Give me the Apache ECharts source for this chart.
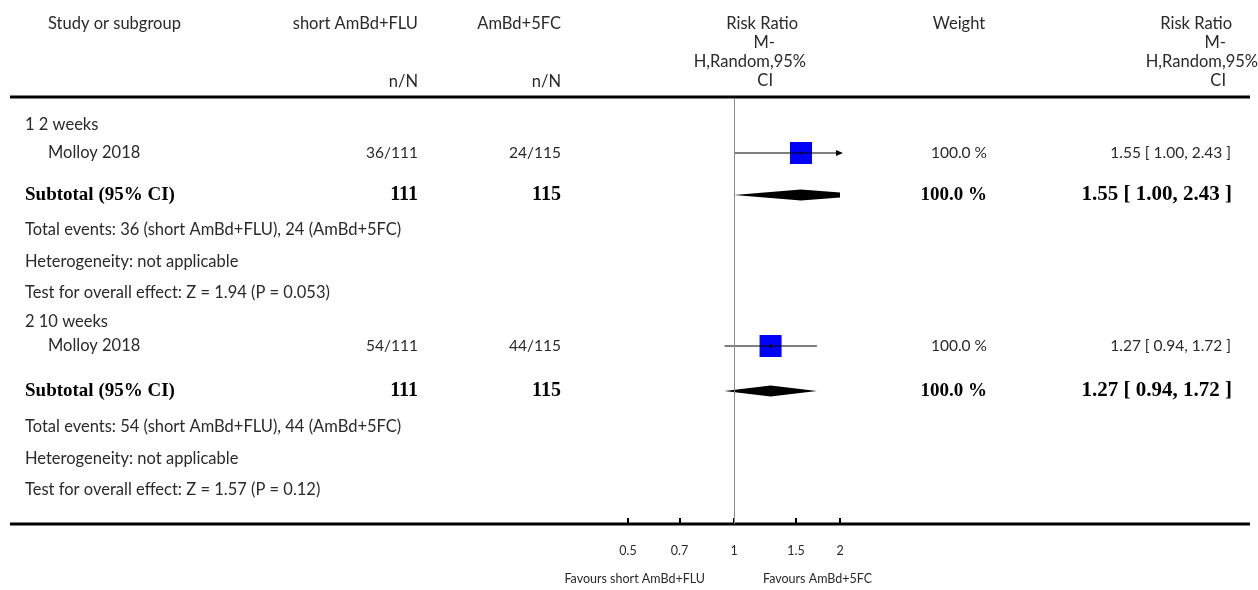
<!DOCTYPE html>
<html><head><meta charset="utf-8">
<script src="https://cdn.jsdelivr.net/npm/echarts@6/dist/echarts.min.js"></script>
<style>html,body{margin:0;padding:0;background:#fff}#c{width:1258px;height:590px}</style>
</head><body><div id="c"></div>
<script>
// ---------- data ----------
const groupLabels = ['1 2 weeks', '2 10 weeks'];
const studyNames = ['Molloy 2018', 'Molloy 2018'];
const expEvents = ['36/111', '54/111'];
const ctrlEvents = ['24/115', '44/115'];
const studyRR = [1.55, 1.27];
const studyLo = [1.00, 0.94];
const studyHi = [2.43, 1.72];
const studyWeight = ['100.0 %', '100.0 %'];
const subExpN = ['111', '111'];
const subCtrlN = ['115', '115'];
const subRR = [1.55, 1.27];
const subLo = [1.00, 0.94];
const subHi = [2.43, 1.72];
const subWeight = ['100.0 %', '100.0 %'];
const totalEvents = ['Total events: 36 (short AmBd+FLU), 24 (AmBd+5FC)', 'Total events: 54 (short AmBd+FLU), 44 (AmBd+5FC)'];
const heterogeneity = ['Heterogeneity: not applicable', 'Heterogeneity: not applicable'];
const overallEffect = ['Test for overall effect: Z = 1.94 (P = 0.053)', 'Test for overall effect: Z = 1.57 (P = 0.12)'];
const tickValues = [0.5, 0.7, 1, 1.5, 2];
const tickLabels = ['0.5', '0.7', '1', '1.5', '2'];
const favoursLeft = 'Favours short AmBd+FLU';
const favoursRight = 'Favours AmBd+5FC';

// ---------- layout ----------
const rowsY = [
  {group:125, study:153, sub:195, tot:230, het:262, test:293},
  {group:322, study:346, sub:391, tot:427, het:459, test:490}
];
const colX = {group:25, study:48, exp:418, ctrl:561, weight:987, rr:1231};
const F = '"Lato", "Noto Sans", sans-serif';
const FB = '"Liberation Serif", "DejaVu Serif", serif';
const TC = '#2a2a2a';
const fsW = 16.5;   // word text
const fsN = 15.5;   // numeric columns

function fmt(v){ return v.toFixed(2); }
function ciText(r,l,h){ return fmt(r) + ' [ ' + fmt(l) + ', ' + fmt(h) + ' ]'; }

const g = [];
function txt(x, y, s, align, size, font, weight, color){
  g.push({type:'text', x:x, y:y, silent:true, style:{text:s, x:0, y:0, align:align||'left', verticalAlign:'middle',
    fontFamily:font||F, fontSize:size||fsW, fontWeight:weight||'normal', fill:color||TC}});
}
// header
txt(colX.study, 24, 'Study or subgroup');
txt(colX.exp, 24, 'short AmBd+FLU', 'right');
txt(colX.ctrl, 24, 'AmBd+5FC', 'right');
txt(colX.exp, 82, 'n/N', 'right');
txt(colX.ctrl, 82, 'n/N', 'right');
txt(798, 24, 'Risk Ratio', 'right');
txt(775, 43, 'M-', 'right');
txt(806, 62, 'H,Random,95%', 'right');
txt(773, 81, 'CI', 'right');
txt(959, 24, 'Weight', 'center');
txt(1232, 24, 'Risk Ratio', 'right');
txt(1226, 43, 'M-', 'right');
txt(1258, 62, 'H,Random,95%', 'right');
txt(1226, 81, 'CI', 'right');

const forestData = [];
groupLabels.forEach((lab, i) => {
  const r = rowsY[i];
  txt(colX.group, r.group, lab);
  txt(colX.study, r.study, studyNames[i]);
  txt(colX.exp, r.study, expEvents[i], 'right', fsN);
  txt(colX.ctrl, r.study, ctrlEvents[i], 'right', fsN);
  txt(colX.weight, r.study, studyWeight[i], 'right', fsN);
  txt(colX.rr, r.study, ciText(studyRR[i], studyLo[i], studyHi[i]), 'right', fsN);
  txt(colX.group, r.sub, 'Subtotal (95% CI)', 'left', 19, FB, 'bold', '#000');
  txt(colX.exp, r.sub, subExpN[i], 'right', 20, FB, 'bold', '#000');
  txt(colX.ctrl, r.sub, subCtrlN[i], 'right', 20, FB, 'bold', '#000');
  txt(colX.weight, r.sub, subWeight[i], 'right', 19, FB, 'bold', '#000');
  txt(colX.rr + 1, r.sub, ciText(subRR[i], subLo[i], subHi[i]), 'right', 21, FB, 'bold', '#000');
  txt(colX.group, r.tot, totalEvents[i]);
  txt(colX.group, r.het, heterogeneity[i]);
  txt(colX.group, r.test, overallEffect[i]);
  forestData.push([studyRR[i], studyLo[i], studyHi[i], r.study, 0]);
  forestData.push([subRR[i], subLo[i], subHi[i], r.sub, 1]);
});
// rules
g.push({type:'line', silent:true, shape:{x1:10, y1:97, x2:1250, y2:97}, style:{stroke:'#000', lineWidth:3}});
g.push({type:'line', silent:true, shape:{x1:10, y1:524, x2:1250, y2:524}, style:{stroke:'#000', lineWidth:3}});
txt(705, 579, favoursLeft, 'right', 12.5);
txt(763, 579, favoursRight, 'left', 12.5);

function clipX(pts, xmin, xmax){
  function clip(poly, inside, inter){
    const out = [];
    for (let k = 0; k < poly.length; k++){
      const a = poly[k], b = poly[(k+1)%poly.length];
      const ia = inside(a), ib = inside(b);
      if (ia) out.push(a);
      if (ia !== ib) out.push(inter(a,b));
    }
    return out;
  }
  const ix = (X) => (a,b) => { const t = (X - a[0])/(b[0]-a[0]); return [X, a[1] + t*(b[1]-a[1])]; };
  let p = clip(pts, q => q[0] >= xmin, ix(xmin));
  p = clip(p, q => q[0] <= xmax, ix(xmax));
  return p;
}

function renderItem(params, api){
  const rr = api.value(0), lo = api.value(1), hi = api.value(2), y = api.value(3), kind = api.value(4);
  const cs = params.coordSys;
  const xMin = cs.x, xMax = cs.x + cs.width;
  const pc = api.coord([rr, y]), pl = api.coord([lo, y]), ph = api.coord([hi, y]);
  const cy = pc[1];
  if (kind === 0){
    const half = 11;
    const x1 = Math.max(pl[0], xMin), x2 = Math.min(ph[0], xMax);
    const ch = [
      {type:'rect', shape:{x:pc[0]-half, y:cy-half, width:2*half, height:2*half}, style:{fill:'#0000ff'}},
      {type:'line', shape:{x1:x1, y1:cy, x2:x2, y2:cy}, style:{stroke:'#000', lineWidth:1.2}},
      {type:'line', shape:{x1:pc[0], y1:cy-2, x2:pc[0], y2:cy+2}, style:{stroke:'#000', lineWidth:1}}
    ];
    if (ph[0] > xMax) ch.push({type:'polygon', shape:{points:[[xMax+3, cy],[xMax-4, cy-3],[xMax-4, cy+3]]}, style:{fill:'#000'}});
    if (pl[0] < xMin) ch.push({type:'polygon', shape:{points:[[xMin-3, cy],[xMin+4, cy-3],[xMin+4, cy+3]]}, style:{fill:'#000'}});
    return {type:'group', children:ch};
  } else {
    const h = 5.5;
    const pts = clipX([[pl[0], cy],[pc[0], cy-h],[ph[0], cy],[pc[0], cy+h]], xMin, xMax);
    return {type:'polygon', shape:{points:pts}, style:{fill:'#000'}};
  }
}

const chart = echarts.init(document.getElementById('c'), null, {renderer:'canvas'});
chart.setOption({
  animation:false,
  backgroundColor:'#fff',
  grid:{left:628, right:418, top:98, bottom:66},
  xAxis:{
    type:'log', logBase:10, min:0.5, max:2,
    axisLine:{show:false},
    splitLine:{show:false},
    axisTick:{show:true, inside:true, length:6, customValues:tickValues, lineStyle:{color:'#000', width:2}},
    axisLabel:{show:true, customValues:tickValues, margin:20, fontSize:12.5, fontFamily:F, color:TC,
      formatter:(v) => { const k = tickValues.findIndex(t => Math.abs(t - v) < 1e-6); return k >= 0 ? tickLabels[k] : ''; }}
  },
  yAxis:{type:'value', min:98, max:524, inverse:true, show:false},
  series:[{
    type:'custom', renderItem:renderItem, data:forestData, silent:true,
    encode:{x:[0,1,2], y:3},
    markLine:{silent:true, symbol:'none', label:{show:false}, lineStyle:{color:'#888', width:1, type:'solid'}, data:[{xAxis:1}]}
  }],
  graphic:{elements:g}
});
</script>
</body></html>
